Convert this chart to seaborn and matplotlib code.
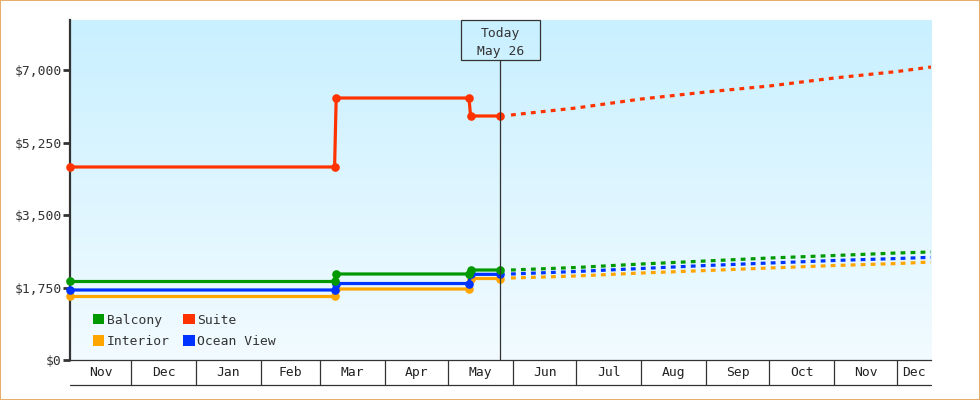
import numpy as np
import pandas as pd
import matplotlib
matplotlib.use('Agg')
import matplotlib.pyplot as plt
import matplotlib.dates as mdates
from matplotlib.patches import Patch, Rectangle
from matplotlib.transforms import blended_transform_factory
import seaborn as sns

cabins = ['Interior', 'Ocean View', 'Balcony', 'Suite']
colors = {'Balcony': '#009900', 'Suite': '#ff3300', 'Interior': '#ffa500', 'Ocean View': '#0033ff'}

# price history, steps are under a day wide
hist_dates = ['2014-11-02', '2015-03-08', '2015-03-08 18:00', '2015-05-11', '2015-05-11 18:00', '2015-05-26']
hist_interior = [1533, 1533, 1714, 1714, 1967, 1967]
hist_ocean = [1690, 1690, 1846, 1846, 2068, 2068]
hist_balcony = [1895, 1895, 2076, 2076, 2172, 2172]
hist_suite = [4659, 4659, 6324, 6324, 5890, 5890]

# projected prices
proj_dates = ['2015-05-31', '2015-07-01', '2015-08-01', '2015-09-01', '2015-10-01',
              '2015-11-01', '2015-12-01', '2015-12-17']
proj_interior = [1979, 2028, 2100, 2160, 2221, 2281, 2329, 2365]
proj_ocean = [2076, 2136, 2209, 2281, 2341, 2402, 2450, 2479]
proj_balcony = [2172, 2233, 2317, 2390, 2462, 2522, 2583, 2607]
proj_suite = [5914, 6083, 6300, 6469, 6614, 6807, 6964, 7072]

month_starts = ['2014-12-01', '2015-01-01', '2015-02-01', '2015-03-01', '2015-04-01', '2015-05-01',
                '2015-06-01', '2015-07-01', '2015-08-01', '2015-09-01', '2015-10-01', '2015-11-01', '2015-12-01']
month_labels = ['Nov', 'Dec', 'Jan', 'Feb', 'Mar', 'Apr', 'May', 'Jun', 'Jul', 'Aug', 'Sep', 'Oct', 'Nov', 'Dec']
ytick_values = [0, 1750, 3500, 5250, 7000]
ytick_labels = ['$0', '$1,750', '$3,500', '$5,250', '$7,000']


def to_long(dates, interior, ocean, balcony, suite):
    rows = []
    for cabin, vals in zip(cabins, [interior, ocean, balcony, suite]):
        rows.append(pd.DataFrame({'date': pd.to_datetime(dates, format='ISO8601'), 'price': vals, 'cabin': cabin}))
    return pd.concat(rows, ignore_index=True)


hist = to_long(hist_dates, hist_interior, hist_ocean, hist_balcony, hist_suite)
proj = to_long(proj_dates, proj_interior, proj_ocean, proj_balcony, proj_suite)

sns.set_style('white')
plt.rcParams['font.family'] = ['DejaVu Sans Mono']
plt.rcParams['font.size'] = 9.4
dark = '#333333'

fig = plt.figure(figsize=(9.8, 4.0), dpi=100)
ax = fig.add_axes([70 / 980, 40 / 400, 861 / 980, 340 / 400])

x_start = pd.Timestamp('2014-11-02')
x_end = pd.Timestamp('2015-12-17')
today = pd.Timestamp('2015-05-26')

# background gradient, top of the image is the top of the axes
grad = np.linspace(0, 1, 256).reshape(-1, 1)
cmap = matplotlib.colors.LinearSegmentedColormap.from_list('sky', ['#c9f0ff', '#f2fbff'])
ax.imshow(grad, aspect='auto', cmap=cmap, transform=ax.transAxes, extent=(0, 1, 0, 1), origin='upper', zorder=0)

sns.lineplot(data=proj, x='date', y='price', hue='cabin', hue_order=cabins, palette=colors,
             estimator=None, sort=False, linewidth=2.3, legend=False, ax=ax,
             dashes=False, linestyle=(0, (1.5, 1.63)), zorder=3)
# seaborn gives the dashes round caps, the reference has square ones
for line in ax.get_lines():
    line.set_dash_capstyle('butt')
sns.lineplot(data=hist, x='date', y='price', hue='cabin', hue_order=cabins, palette=colors,
             estimator=None, sort=False, linewidth=2.3, marker='o', markersize=6.2,
             markeredgewidth=0, legend=False, ax=ax, zorder=4, clip_on=False)

ax.set_xlim(x_start, x_end)
ax.set_ylim(0, 8207)
ax.set_xlabel('')
ax.set_ylabel('')
ax.set_yticks(ytick_values)
ax.set_yticklabels(ytick_labels, color=dark)
ax.tick_params(axis='y', length=5, width=2, color=dark, pad=1, left=True)
ax.set_xticks([])

for side in ['top', 'right']:
    ax.spines[side].set_visible(False)
ax.spines['left'].set_color(dark)
ax.spines['left'].set_linewidth(1.6)
ax.spines['bottom'].set_color(dark)
ax.spines['bottom'].set_linewidth(0.9)

# month strip under the axis
trans = blended_transform_factory(ax.transData, ax.transAxes)
strip = -25 / 340
edges = [x_start] + [pd.Timestamp(d) for d in month_starts] + [x_end]
for d in month_starts:
    ax.plot([pd.Timestamp(d)] * 2, [0, strip], color=dark, lw=0.9, transform=trans, clip_on=False, zorder=5)
ax.plot([x_start, x_end], [strip, strip], color=dark, lw=0.9, transform=trans, clip_on=False, zorder=5)
for label, a, b in zip(month_labels, edges[:-1], edges[1:]):
    ax.text(a + (b - a) / 2, strip / 2, label, transform=trans, ha='center', va='center', color='#222222')

# today marker
ax.plot([today, today], [0, 300 / 340], color=dark, lw=0.9, transform=trans, zorder=5)
today_px = mdates.date2num(today)
px_days = (mdates.date2num(x_end) - mdates.date2num(x_start)) / 861
ax.add_patch(Rectangle((today_px - 40 * px_days, 300 / 340), 80 * px_days, 40 / 340, transform=trans,
                       fill=False, edgecolor=dark, lw=0.9, clip_on=False, zorder=5))
ax.text(today, 327 / 340, 'Today', transform=trans, ha='center', va='center', color=dark, zorder=6)
ax.text(today, 309 / 340, 'May 26', transform=trans, ha='center', va='center', color=dark, zorder=6)

handles = [Patch(facecolor=colors[c], edgecolor='none', label=c)
           for c in ['Balcony', 'Interior', 'Suite', 'Ocean View']]
ax.legend(handles=handles, ncol=2, frameon=False, loc='lower left', bbox_to_anchor=(23 / 861, 12 / 340),
          borderaxespad=0, borderpad=0, handlelength=0.85, handleheight=0.85, handletextpad=0.2,
          columnspacing=1.05, labelspacing=0.65, labelcolor=dark)

# thin orange border round the whole picture
fig.add_artist(Rectangle((0, 0), 1, 1, transform=fig.transFigure, fill=False, edgecolor='#e8ae6e', lw=1.5))

fig.savefig('out.png', dpi=100, facecolor='white')
